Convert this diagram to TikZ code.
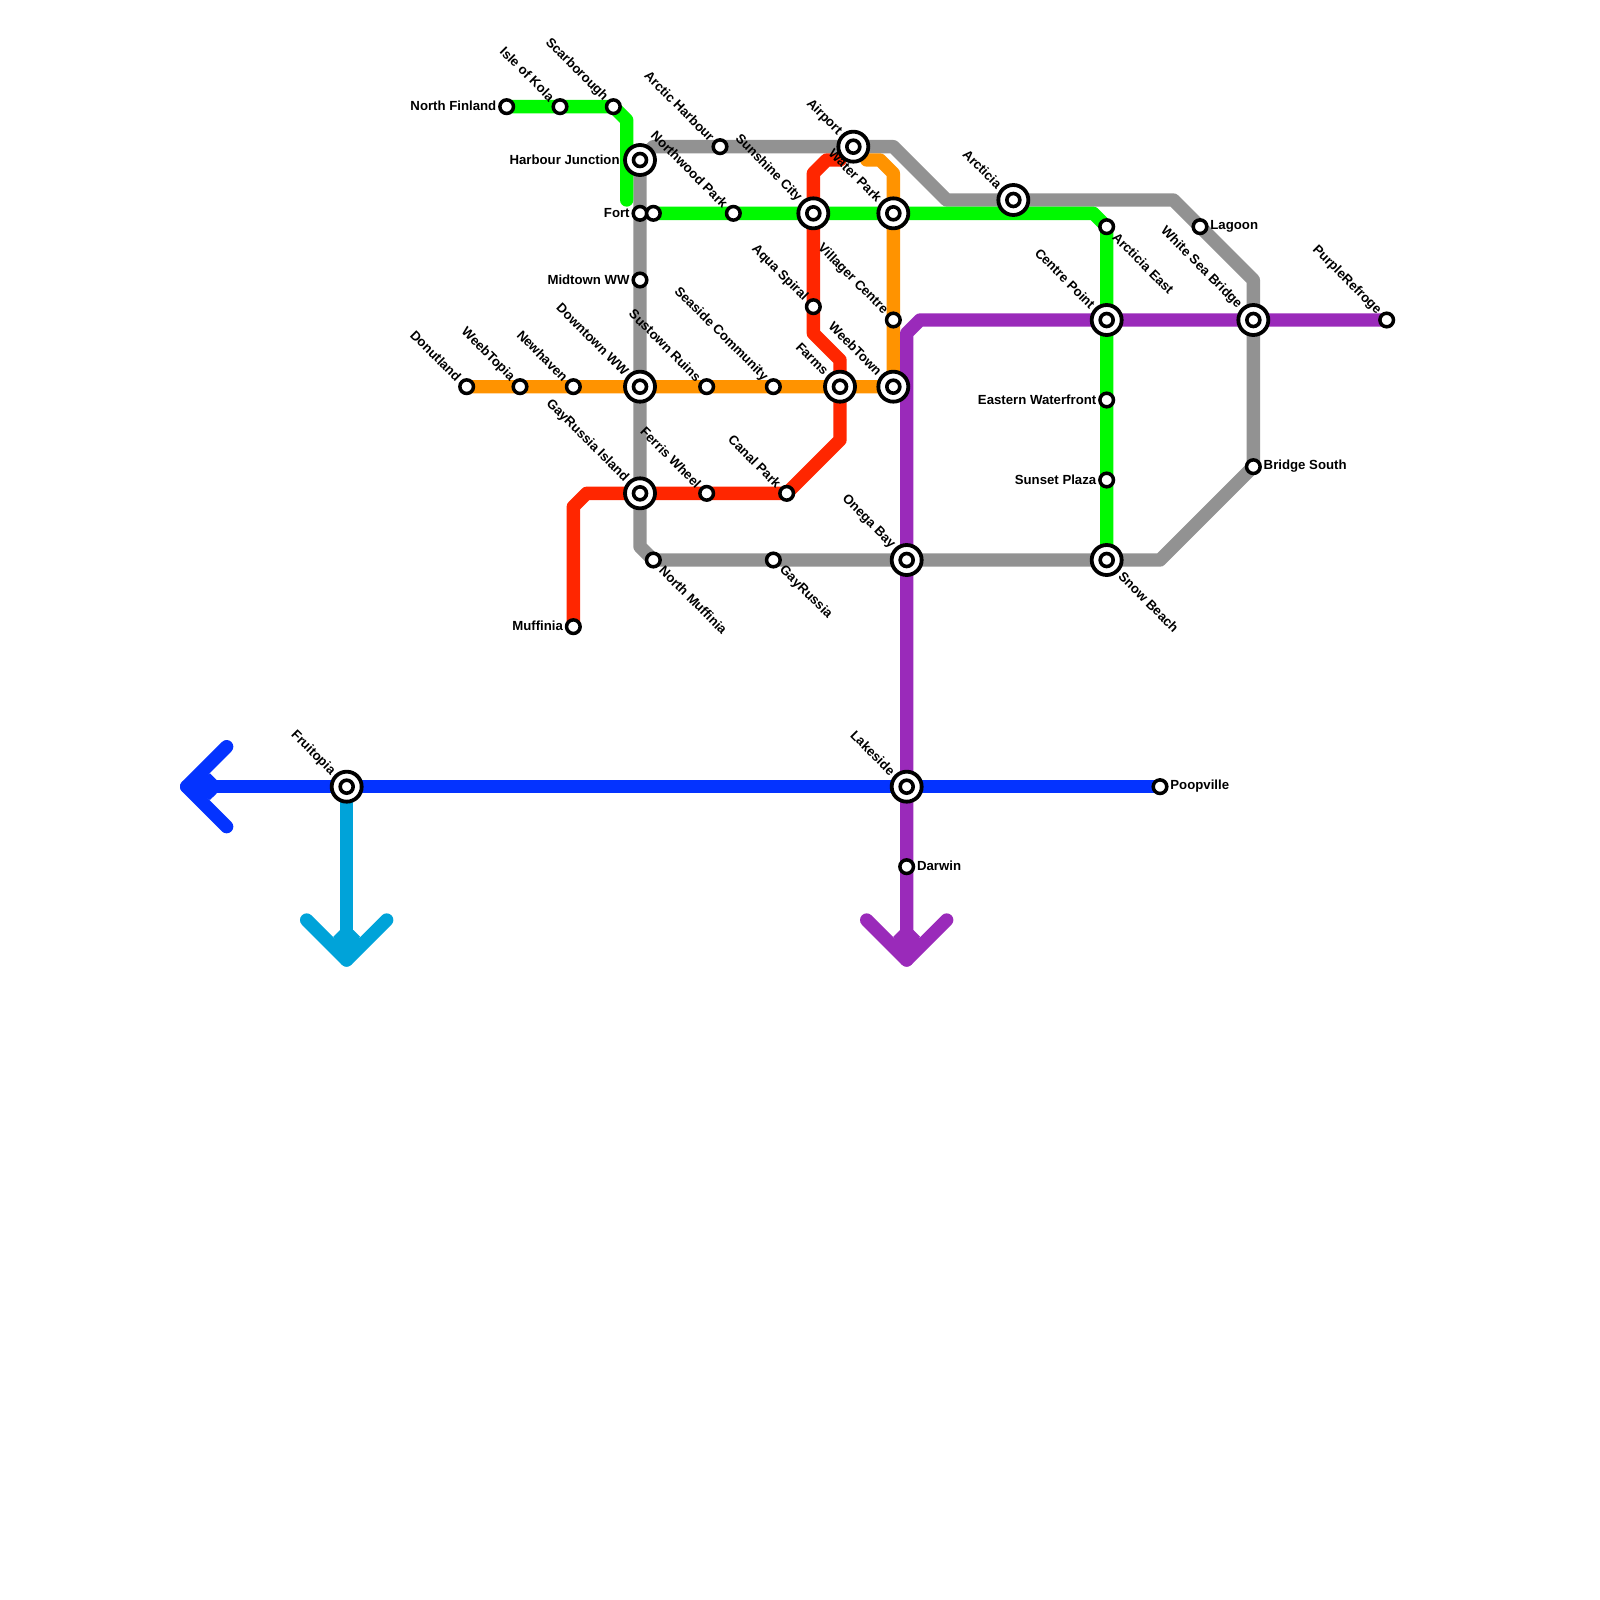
\documentclass[tikz,border=0pt]{standalone}
\usepackage{fontspec}
\setmainfont{Liberation Sans}
\definecolor{lgrey}{HTML}{929292}
\definecolor{lgreen}{HTML}{00F900}
\definecolor{lorange}{HTML}{FF9300}
\definecolor{lred}{HTML}{FF2600}
\definecolor{lpurple}{HTML}{9A2ABA}
\definecolor{lblue}{HTML}{0433FF}
\definecolor{lcyan}{HTML}{00A3D9}
\tikzset{
  metro/.style={line width=6.67pt,line cap=round,line join=round},
  smallst/.style={circle,draw=black,fill=white,line width=1.75pt,minimum size=6.8pt,inner sep=0pt},
  bigst/.style={circle,draw=black,fill=white,line width=1.9pt,minimum size=15pt,inner sep=0pt},
  innerst/.style={circle,draw=black,fill=white,line width=1.8pt,minimum size=6.5pt,inner sep=0pt},
  lab/.style={font=\bfseries\fontsize{6.6pt}{8pt}\selectfont,inner sep=0pt,text=black},
  labul/.style={lab,rotate=-45,anchor=east},
  labdr/.style={lab,rotate=-45,anchor=west},
  labl/.style={lab,anchor=east},
  labr/.style={lab,anchor=west},
}
\newcommand{\smallstation}[1]{\node[smallst] (n#1) at (#1) {};}
\newcommand{\bigstation}[1]{\node[bigst] (r#1) at (#1) {};\node[innerst] (n#1) at (#1) {};}
\begin{document}
\begin{tikzpicture}[x=0.5pt,y=-0.5pt]
\useasboundingbox (0,0) rectangle (1600,1600);
\fill[white] (0,0) rectangle (1600,1600);
% stations
\foreach \n/\x/\y in {
 nfin/506.67/106.67, isle/560/106.67, scar/613.33/106.67,
 harb/640/160, fort/640/213.33, fortb/653.33/213.33, midt/640/280,
 donu/466.67/386.67, weebt/520/386.67, newh/573.33/386.67, down/640/386.67,
 sust/706.67/386.67, seas/773.33/386.67, farm/840/386.67, weebn/893.33/386.67,
 arch/720/146.67, airp/853.33/146.67, north/733.33/213.33, suns/813.33/213.33,
 watr/893.33/213.33, aqua/813.33/306.67, vill/893.33/320,
 gayi/640/493.33, ferr/706.67/493.33, cana/786.67/493.33, muff/573.33/626.67,
 nmuf/653.33/560, gayr/773.33/560, oneg/906.67/560, snow/1106.67/560,
 brid/1253.33/466.67, arct/1013.33/200, arce/1106.67/226.67, lago/1200/226.67,
 cent/1106.67/320, whit/1253.33/320, purp/1386.67/320, east/1106.67/400,
 suns2/1106.67/480, lake/906.67/786.67, darw/906.67/866.67, poop/1160/786.67,
 frui/346.67/786.67,
 % free bend points and line ends
 g1/613.33/106.67, g2/626.67/120, g3/626.67/200, g4/1093.33/213.33,
 y1/653.33/146.67, y2/893.33/146.67, y3/946.67/200, y4/1173.33/200, y5/1253.33/280,
 y6/1160/560, y7/640/546.67,
 o1/866.67/160, o2/880/160, o3/893.33/173.33,
 r1/840/160, r2/826.67/160, r3/813.33/173.33, r4/813.33/333.33, r5/840/360, r6/840/440,
 r7/586.67/493.33, r8/573.33/506.67,
 p1/920/320, p2/906.67/333.33, p3/906.67/960, p4/866.67/920, p5/946.67/920,
 b1/186.67/786.67, b2/226.67/746.67, b3/226.67/826.67,
 c1/346.67/960, c2/306.67/920, c3/386.67/920}
 {\coordinate (\n) at (\x,\y);}
% lines
\draw[metro,lgrey] (harb) -- (y1) -- (y2) -- (y3) -- (y4) -- (y5) -- (brid) -- (y6) -- (nmuf) -- (y7) -- (harb);
\draw[metro,lgreen] (nfin) -- (g1) -- (g2) -- (g3);
\draw[metro,lgreen] (fortb) -- (g4) -- (arce) -- (snow);
\draw[metro,lorange] (donu) -- (weebn) -- (o3) -- (o2) -- (o1);
\draw[metro,lred] (muff) -- (r8) -- (r7) -- (cana) -- (r6) -- (r5) -- (r4) -- (r3) -- (r2) -- (r1);
\draw[metro,lpurple] (purp) -- (p1) -- (p2) -- (p3);
\draw[metro,lpurple] (p4) -- (p3) -- (p5);
\fill[lpurple] (p3) -- ([shift={(-13.33,-23.3)}]p3) -- ([shift={(-6.67,-30)}]p3) -- ([shift={(6.67,-30)}]p3) -- ([shift={(13.33,-23.3)}]p3) -- cycle;
\draw[metro,lblue] (poop) -- (b1);
\draw[metro,lblue] (b2) -- (b1) -- (b3);
\fill[lblue] (b1) -- ([shift={(23.3,-13.33)}]b1) -- ([shift={(30,-6.67)}]b1) -- ([shift={(30,6.67)}]b1) -- ([shift={(23.3,13.33)}]b1) -- cycle;
\draw[metro,lcyan] (frui) -- (c1);
\draw[metro,lcyan] (c2) -- (c1) -- (c3);
\fill[lcyan] (c1) -- ([shift={(-13.33,-23.3)}]c1) -- ([shift={(-6.67,-30)}]c1) -- ([shift={(6.67,-30)}]c1) -- ([shift={(13.33,-23.3)}]c1) -- cycle;
% stations
\foreach \n in {nfin,isle,scar,fort,fortb,midt,donu,weebt,newh,sust,seas,arch,north,aqua,vill,ferr,cana,muff,nmuf,gayr,brid,arce,lago,purp,east,suns2,darw,poop}
 {\smallstation{\n}}
\foreach \n in {harb,down,farm,weebn,airp,suns,watr,gayi,oneg,snow,arct,cent,whit,lake,frui}
 {\bigstation{\n}}
% labels: left and right
\node[labl] (tnfin) at ([shift={(-10,-0.5)}]nfin) {North Finland};
\node[labl] (tharb) at ([shift={(-20,-0.5)}]harb) {Harbour Junction};
\node[labl] (tfort) at ([shift={(-10,-0.5)}]fort) {Fort};
\node[labl] (tmidt) at ([shift={(-10,-0.5)}]midt) {Midtown WW};
\node[labl] (tmuff) at ([shift={(-10,-0.5)}]muff) {Muffinia};
\node[labl] (teast) at ([shift={(-10,-0.5)}]east) {Eastern Waterfront};
\node[labl] (tsuns2) at ([shift={(-10,-0.5)}]suns2) {Sunset Plaza};
\node[labr] (tlago) at ([shift={(10,-0.5)}]lago) {Lagoon};
\node[labr] (tbrid) at ([shift={(10,-0.5)}]brid) {Bridge South};
\node[labr] (tpoop) at ([shift={(10,-0.5)}]poop) {Poopville};
\node[labr] (tdarw) at ([shift={(10,-0.5)}]darw) {Darwin};
% labels: diagonal, upper left
\node[labul] (tisle) at ([shift={(-7.5,-7.5)}]isle) {Isle of Kola};
\node[labul] (tscar) at ([shift={(-7.5,-7.5)}]scar) {Scarborough};
\node[labul] (tarch) at ([shift={(-7.5,-7.5)}]arch) {Arctic Harbour};
\node[labul] (tairp) at ([shift={(-13.5,-13.5)}]airp) {Airport};
\node[labul] (tnorth) at ([shift={(-7.5,-7.5)}]north) {Northwood Park};
\node[labul] (tsuns) at ([shift={(-13.5,-13.5)}]suns) {Sunshine City};
\node[labul] (twatr) at ([shift={(-13.5,-13.5)}]watr) {Water Park};
\node[labul] (taqua) at ([shift={(-7.5,-7.5)}]aqua) {Aqua Spiral};
\node[labul] (tvill) at ([shift={(-7.5,-7.5)}]vill) {Villager Centre};
\node[labul] (tdonu) at ([shift={(-7.5,-7.5)}]donu) {Donutland};
\node[labul] (tweebt) at ([shift={(-7.5,-7.5)}]weebt) {WeebTopia};
\node[labul] (tnewh) at ([shift={(-7.5,-7.5)}]newh) {Newhaven};
\node[labul] (tdown) at ([shift={(-13.5,-13.5)}]down) {Downtown WW};
\node[labul] (tsust) at ([shift={(-7.5,-7.5)}]sust) {Sustown Ruins};
\node[labul] (tseas) at ([shift={(-7.5,-7.5)}]seas) {Seaside Community};
\node[labul] (tfarm) at ([shift={(-13.5,-13.5)}]farm) {Farms};
\node[labul] (tweebn) at ([shift={(-13.5,-13.5)}]weebn) {WeebTown};
\node[labul] (tgayi) at ([shift={(-13.5,-13.5)}]gayi) {GayRussia Island};
\node[labul] (tferr) at ([shift={(-7.5,-7.5)}]ferr) {Ferris Wheel};
\node[labul] (tcana) at ([shift={(-7.5,-7.5)}]cana) {Canal Park};
\node[labul] (toneg) at ([shift={(-13.5,-13.5)}]oneg) {Onega Bay};
\node[labul] (tarct) at ([shift={(-13.5,-13.5)}]arct) {Arcticia};
\node[labul] (tcent) at ([shift={(-13.5,-13.5)}]cent) {Centre Point};
\node[labul] (twhit) at ([shift={(-13.5,-13.5)}]whit) {White Sea Bridge};
\node[labul] (tpurp) at ([shift={(-7.5,-7.5)}]purp) {PurpleRefroge};
\node[labul] (tlake) at ([shift={(-13.5,-13.5)}]lake) {Lakeside};
\node[labul] (tfrui) at ([shift={(-13.5,-13.5)}]frui) {Fruitopia};
% labels: diagonal, lower right
\node[labdr] (tarce) at ([shift={(8,8)}]arce) {Arcticia East};
\node[labdr] (tnmuf) at ([shift={(8,8)}]nmuf) {North Muffinia};
\node[labdr] (tgayr) at ([shift={(8,8)}]gayr) {GayRussia};
\node[labdr] (tsnow) at ([shift={(14,14)}]snow) {Snow Beach};
\end{tikzpicture}
\end{document}
